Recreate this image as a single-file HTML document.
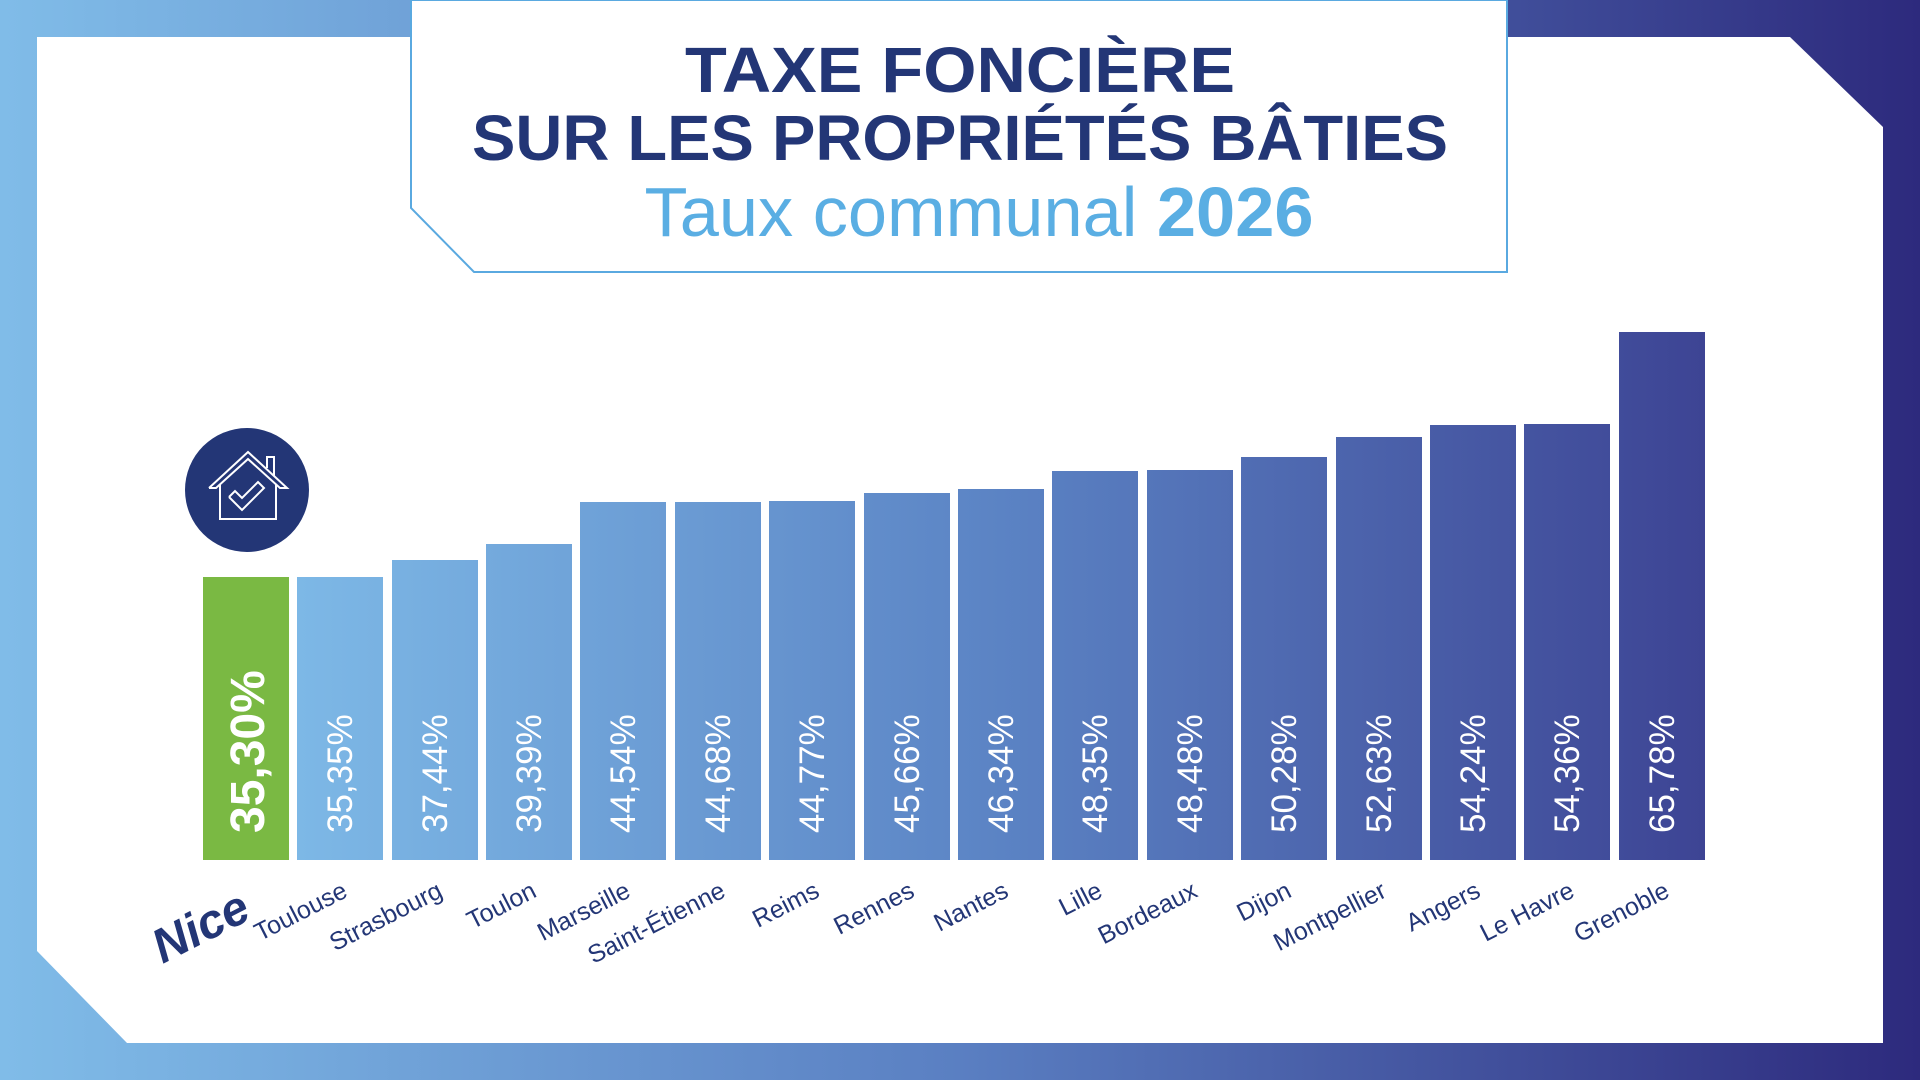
<!DOCTYPE html>
<html><head><meta charset="utf-8"><style>
html,body{margin:0;padding:0;width:1920px;height:1080px;overflow:hidden;background:#fff}
svg{display:block}
</style></head><body>
<svg width="1920" height="1080" viewBox="0 0 1920 1080" xmlns="http://www.w3.org/2000/svg" font-family="Liberation Sans, sans-serif">
<defs>
<linearGradient id="bg" x1="0" y1="0" x2="1" y2="0">
<stop offset="0" stop-color="#80bce8"/><stop offset="0.5" stop-color="#5a7fc2"/><stop offset="1" stop-color="#2d2a7d"/>
</linearGradient>
<linearGradient id="bars" gradientUnits="userSpaceOnUse" x1="297" y1="0" x2="1706" y2="0">
<stop offset="0" stop-color="#7db8e6"/><stop offset="0.5" stop-color="#5b83c4"/><stop offset="1" stop-color="#3d4494"/>
</linearGradient>
</defs>
<rect width="1920" height="1080" fill="url(#bg)"/>
<polygon points="37,37 1790,37 1883,127 1883,1043 127,1043 37,951" fill="#fff"/>
<polygon points="411,0 1507,0 1507,272 474,272 411,208" fill="#fff" stroke="#5aa9e0" stroke-width="2"/>
<text x="960" y="92" text-anchor="middle" font-size="64" font-weight="bold" fill="#233676" textLength="550" lengthAdjust="spacingAndGlyphs">TAXE FONCIÈRE</text>
<text x="960" y="160" text-anchor="middle" font-size="64" font-weight="bold" fill="#233676" textLength="976" lengthAdjust="spacingAndGlyphs">SUR LES PROPRIÉTÉS BÂTIES</text>
<text x="979" y="236" text-anchor="middle" font-size="70" fill="#5aaee3" textLength="669" lengthAdjust="spacingAndGlyphs">Taux communal <tspan font-weight="bold">2026</tspan></text>
<circle cx="247" cy="490" r="62" fill="#233676"/>
<g fill="none" stroke="#fff" stroke-width="2">
<polyline points="209,488 248,452 287,488 280,488 248,459 216,488 209,488"/>
<polyline points="220,484 220,519 276,519 276,484"/>
<polyline points="267,468 267,457 274,457 274,476"/>
<polyline points="229,497 242,510 264,488 258,482 242,498 235,491 229,497"/>
</g>
<rect x="203" y="577" width="86" height="283" fill="#7ab943"/>
<g fill="url(#bars)">
<rect x="297" y="577" width="86" height="283"/>
<rect x="392" y="560" width="86" height="300"/>
<rect x="486" y="544" width="86" height="316"/>
<rect x="580" y="502" width="86" height="358"/>
<rect x="675" y="502" width="86" height="358"/>
<rect x="769" y="501" width="86" height="359"/>
<rect x="864" y="493" width="86" height="367"/>
<rect x="958" y="489" width="86" height="371"/>
<rect x="1052" y="471" width="86" height="389"/>
<rect x="1147" y="470" width="86" height="390"/>
<rect x="1241" y="457" width="86" height="403"/>
<rect x="1336" y="437" width="86" height="423"/>
<rect x="1430" y="425" width="86" height="435"/>
<rect x="1524" y="424" width="86" height="436"/>
<rect x="1619" y="332" width="86" height="528"/>
</g>
<g fill="#fff" font-size="35">
<text transform="translate(264,833) rotate(-90)" font-size="48" font-weight="bold">35,30%</text>
<text transform="translate(352,833) rotate(-90)">35,35%</text>
<text transform="translate(447,833) rotate(-90)">37,44%</text>
<text transform="translate(541,833) rotate(-90)">39,39%</text>
<text transform="translate(635,833) rotate(-90)">44,54%</text>
<text transform="translate(730,833) rotate(-90)">44,68%</text>
<text transform="translate(824,833) rotate(-90)">44,77%</text>
<text transform="translate(919,833) rotate(-90)">45,66%</text>
<text transform="translate(1013,833) rotate(-90)">46,34%</text>
<text transform="translate(1107,833) rotate(-90)">48,35%</text>
<text transform="translate(1202,833) rotate(-90)">48,48%</text>
<text transform="translate(1296,833) rotate(-90)">50,28%</text>
<text transform="translate(1391,833) rotate(-90)">52,63%</text>
<text transform="translate(1485,833) rotate(-90)">54,24%</text>
<text transform="translate(1579,833) rotate(-90)">54,36%</text>
<text transform="translate(1674,833) rotate(-90)">65,78%</text>
</g>
<text transform="translate(253,918) rotate(-27)" text-anchor="end" font-size="48" font-weight="bold" font-style="italic" fill="#233676">Nice</text>
<g fill="#233676" font-size="25" text-anchor="end">
<text transform="translate(349,896) rotate(-27)">Toulouse</text>
<text transform="translate(444,896) rotate(-27)">Strasbourg</text>
<text transform="translate(538,896) rotate(-27)">Toulon</text>
<text transform="translate(632,896) rotate(-27)">Marseille</text>
<text transform="translate(727,896) rotate(-27)">Saint-Étienne</text>
<text transform="translate(821,896) rotate(-27)">Reims</text>
<text transform="translate(916,896) rotate(-27)">Rennes</text>
<text transform="translate(1010,896) rotate(-27)">Nantes</text>
<text transform="translate(1104,896) rotate(-27)">Lille</text>
<text transform="translate(1199,896) rotate(-27)">Bordeaux</text>
<text transform="translate(1293,896) rotate(-27)">Dijon</text>
<text transform="translate(1388,896) rotate(-27)">Montpellier</text>
<text transform="translate(1482,896) rotate(-27)">Angers</text>
<text transform="translate(1576,896) rotate(-27)">Le Havre</text>
<text transform="translate(1671,896) rotate(-27)">Grenoble</text>
</g>
</svg>
</body></html>
